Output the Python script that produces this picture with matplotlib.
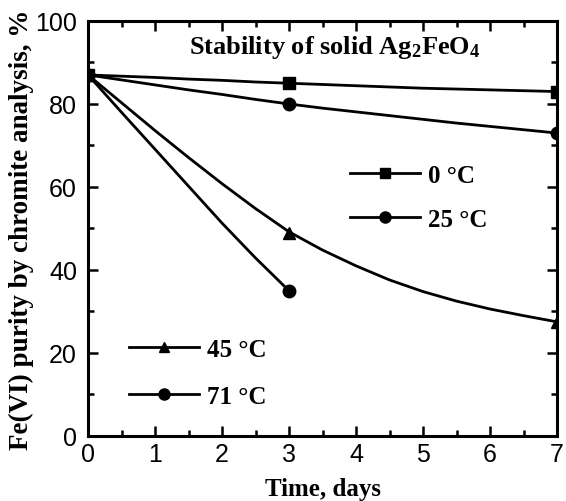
import numpy as np
import matplotlib
matplotlib.use('Agg')
import matplotlib.pyplot as plt
from matplotlib.ticker import MultipleLocator
from matplotlib.lines import Line2D

# measured points (days, purity %)
t_meas = [0, 3, 7]
p_0C = [87, 85, 83]
p_25C = [87, 80, 73]
p_45C = [87, 49, 27.5]
t_71 = [0, 3]
p_71C = [87, 35]

# fitted curves
t_fit = [0, 0.5, 1, 1.5, 2, 2.5, 3, 3.5, 4, 4.5, 5, 5.5, 6, 6.5, 7]
fit_0C = [87, 86.7, 86.4, 86.0, 85.7, 85.3, 85.0, 84.7, 84.4, 84.1, 83.8, 83.6, 83.4, 83.2, 83.0]
fit_25C = [87, 85.8, 84.6, 83.4, 82.3, 81.1, 80.0, 79.0, 78.1, 77.2, 76.3, 75.4, 74.6, 73.8, 73.0]
fit_45C = [87, 80.3, 73.6, 67.1, 60.8, 54.8, 49.2, 44.8, 41.0, 37.6, 34.8, 32.5, 30.6, 29.0, 27.5]
t_fit71 = [0, 0.5, 1, 1.5, 2, 2.5, 3]
fit_71C = [87, 78.0, 69.1, 60.2, 51.3, 42.9, 35.0]

serif = 'Liberation Serif'
plt.rcParams['font.family'] = 'Liberation Sans'
plt.rcParams['mathtext.fontset'] = 'custom'
plt.rcParams['mathtext.rm'] = 'Liberation Serif:bold'
plt.rcParams['mathtext.it'] = 'Liberation Serif:bold'
plt.rcParams['mathtext.bf'] = 'Liberation Serif:bold'

fig = plt.figure(figsize=(5.66, 5.02), dpi=100)
ax = fig.add_axes([0.1555, 0.1295, 0.8286, 0.8267])

lw = 2.0
ax.plot(t_fit, fit_0C, color='black', lw=lw)
ax.plot(t_fit, fit_25C, color='black', lw=lw)
ax.plot(t_fit, fit_45C, color='black', lw=lw)
ax.plot(t_fit71, fit_71C, color='black', lw=lw)

ax.plot(t_meas, p_0C, 's', color='black', ms=8)
ax.plot(t_meas, p_25C, 'o', color='black', ms=9)
ax.plot(t_meas, p_45C, '^', color='black', ms=8)
ax.plot(t_71, p_71C, 'o', color='black', ms=9)

ax.set_xlim(0, 7)
ax.set_ylim(0, 100)
ax.xaxis.set_major_locator(MultipleLocator(1))
ax.xaxis.set_minor_locator(MultipleLocator(0.5))
ax.yaxis.set_major_locator(MultipleLocator(20))
ax.yaxis.set_minor_locator(MultipleLocator(10))
ax.tick_params(which='both', direction='in', top=True, right=True, width=1.8)
ax.tick_params(which='major', length=7, labelsize=18)
ax.tick_params(axis='x', which='major', pad=4)
ax.tick_params(axis='y', which='major', pad=8)
ax.tick_params(which='minor', length=4)
for s in ax.spines.values():
    s.set_linewidth(2.2)

ax.set_xlabel('Time, days', fontfamily=serif, fontweight='bold', fontsize=18, labelpad=8)
ax.set_ylabel('Fe(VI) purity by chromite analysis, %', fontfamily=serif,
              fontweight='bold', fontsize=19.5, labelpad=1)

ax.text(3.68, 93.8, 'Stability of solid Ag$_2$FeO$_4$', fontfamily=serif,
        fontweight='bold', fontsize=19, ha='center', va='center')

def handle(m, ms):
    return Line2D([], [], color='black', lw=lw, marker=m, ms=ms)

leg_font = {'family': serif, 'weight': 'bold', 'size': 18}
leg1 = ax.legend([handle('s', 7), handle('o', 8)], ['0 °C', '25 °C'],
                 loc='upper left', bbox_to_anchor=(0.511, 0.71), frameon=False,
                 prop=leg_font, handlelength=2.8, handletextpad=0.3,
                 labelspacing=0.85, numpoints=1)
ax.add_artist(leg1)
ax.legend([handle('^', 7), handle('o', 8)], ['45 °C', '71 °C'],
          loc='upper left', bbox_to_anchor=(0.04, 0.29), frameon=False,
          prop=leg_font, handlelength=2.8, handletextpad=0.3,
          labelspacing=0.95, numpoints=1)

fig.savefig('out.png', dpi=100)
